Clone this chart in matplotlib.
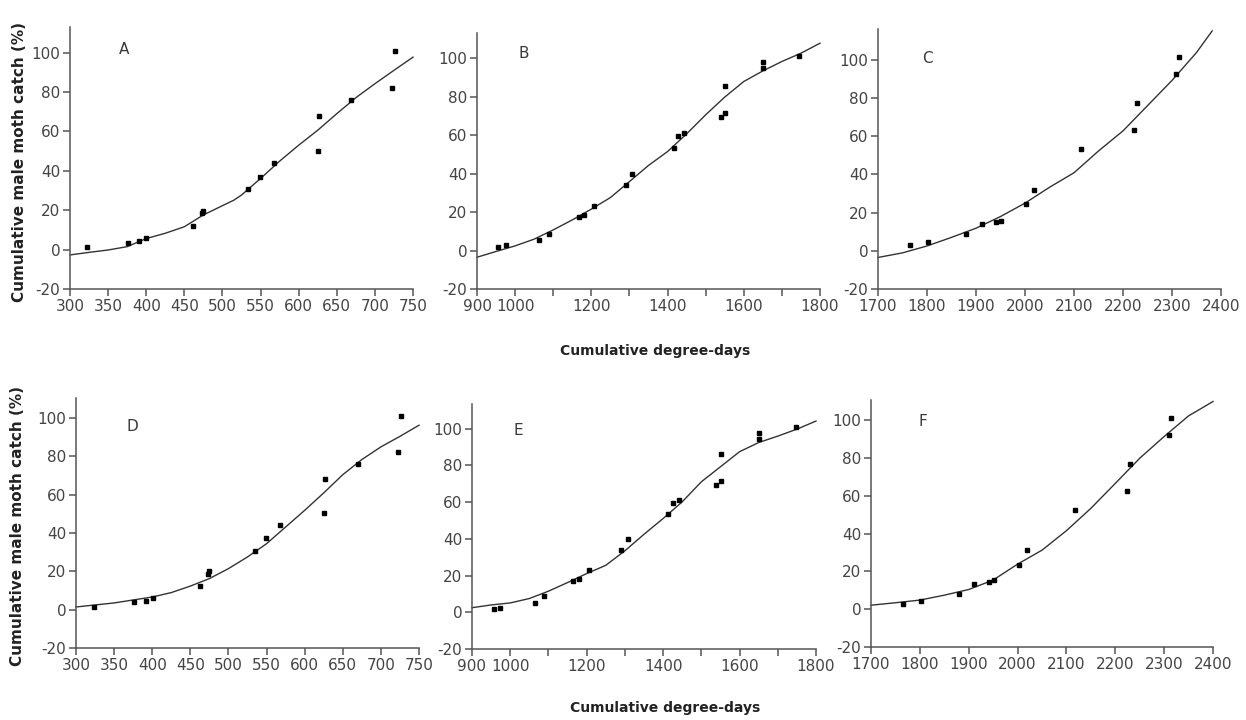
import matplotlib

matplotlib.use("Agg")
import matplotlib.pyplot as plt

plt.rcParams["axes.unicode_minus"] = False

# observed catches (degree-days, %)
A_X = [322.7, 375.6, 391, 399.7, 461.8, 472.7, 475, 534, 549.3, 567.6, 627, 626, 668.5, 722, 726]
A_Y = [1.4, 3.5, 4.2, 6.1, 12.2, 18.4, 19.7, 30.7, 37.1, 44, 67.8, 50.3, 76.1, 82, 100.6]
B_X = [954, 975, 1061.7, 1088, 1166.5, 1179.6, 1205.8, 1290.6, 1308, 1417.3, 1426.9, 1444.4,
       1541.4, 1552, 1551, 1649.8, 1649.8, 1745.9]
B_Y = [1.9, 2.8, 5.2, 8.7, 17.5, 18.2, 22.9, 33.9, 39.8, 53.5, 59.6, 61.3, 69.6, 71.3, 85.7,
       97.8, 94.7, 101]
C_X = [1764.8, 1802, 1878.6, 1911.3, 1939.9, 1950.8, 2001.3, 2019, 2114.5, 2222.8, 2229, 2307.4, 2314.2]
C_Y = [3, 4.6, 8.8, 14.1, 14.8, 15.8, 24.4, 32, 53, 63.1, 77.1, 92.6, 101.2]
D_X = [324, 376.6, 391.9, 400.6, 462.7, 474.9, 473.5, 535, 549.5, 567.7, 625.5, 626.8, 669.6, 722, 726]
D_Y = [1.4, 3.8, 4.5, 6.1, 12.5, 20, 18.8, 30.6, 37.2, 44.3, 50.6, 68.3, 76.2, 82.3, 101]
E_X = [956.8, 974.3, 1064.3, 1087.9, 1164.8, 1180.5, 1206.7, 1288.8, 1309, 1413.8, 1427, 1442.6,
       1538.8, 1551, 1551, 1649.7, 1649.7, 1747.6]
E_Y = [1.8, 2.5, 5.1, 8.9, 17.3, 18.2, 22.9, 33.8, 39.8, 53.5, 59.5, 61.1, 69.6, 71.3, 86.2,
       97.8, 94.7, 100.7]
F_X = [1765.5, 1803, 1879.4, 1910.8, 1940.8, 1952.4, 2003.6, 2019.3, 2116.9, 2224, 2230, 2309.3, 2314]
F_Y = [2.6, 4.4, 8.1, 13.2, 14.5, 15.2, 23.6, 31.2, 52.4, 62.6, 76.6, 92.3, 101]

# fitted model curves
A_FX = [300, 325, 350, 375, 400, 425, 450, 475, 500, 515, 525, 550, 575, 600, 625, 650, 675, 700, 725, 750]
A_FY = [-2.7, -1.4, -0.2, 1.5, 5.6, 8.3, 11.6, 17.6, 22.3, 25.1, 27.7, 36.1, 44.9, 53, 60.6, 69,
        77.1, 84.2, 91, 97.7]
B_FX = [900, 950, 1000, 1050, 1100, 1150, 1200, 1250, 1300, 1350, 1400, 1450, 1500, 1550, 1600,
        1650, 1700, 1750, 1800]
B_FY = [-3.5, -0.5, 2.4, 5.9, 10.7, 15.9, 21.5, 27.5, 35.8, 44.2, 51.4, 60.6, 70.5, 79.7, 87.8,
        93.3, 98.2, 102.5, 107.7]
C_FX = [1700, 1750, 1800, 1850, 1900, 1950, 2000, 2050, 2100, 2150, 2200, 2250, 2300, 2350, 2382]
C_FY = [-3.5, -1.1, 2.5, 7, 11.8, 17.9, 24.9, 33.2, 40.8, 52.2, 62.7, 75.9, 89.1, 103.7, 115]
D_FX = [300, 350, 400, 425, 450, 475, 500, 525, 550, 575, 600, 625, 650, 675, 700, 725, 750]
D_FY = [1.4, 3.5, 6.6, 8.9, 12.3, 16.2, 21.4, 27.5, 34.4, 43.1, 51.8, 60.9, 70.4, 78.3, 84.9,
        90.4, 96.2]
E_FX = [900, 950, 1000, 1050, 1100, 1150, 1200, 1250, 1300, 1350, 1400, 1450, 1500, 1550, 1600,
        1650, 1700, 1750, 1800]
E_FY = [2.5, 4, 5.1, 7.5, 11.5, 16.2, 21.1, 25.6, 33.5, 42.5, 51.1, 60.2, 71.1, 79.3, 87.5,
        92.5, 96, 99.8, 104.2]
F_FX = [1700, 1750, 1800, 1850, 1900, 1950, 2000, 2050, 2100, 2150, 2200, 2250, 2300, 2350, 2400]
F_FY = [2.1, 3.4, 4.8, 7.4, 10.4, 15.4, 23.8, 31.2, 41.5, 53.3, 66.5, 79.8, 91.3, 102.2, 109.8]

LETTERS = ["A", "B", "C", "D", "E", "F"]
Y_TICKS = [-20, 0, 20, 40, 60, 80, 100]
X_TICKS_300 = [300, 350, 400, 450, 500, 550, 600, 650, 700, 750]
X_TICKS_900 = [900, 1000, 1100, 1200, 1300, 1400, 1500, 1600, 1700, 1800]
X_LABELS_900 = ["900", "1000", "", "1200", "", "1400", "", "1600", "", "1800"]
X_TICKS_1700 = [1700, 1800, 1900, 2000, 2100, 2200, 2300, 2400]

W, H = 1246, 720
# pixel layout: left, right, y of -20, top of y-axis, y max
BOXES = [(70, 413, 289, 27, 113), (477, 820, 289, 33, 113), (878, 1221, 289, 29, 116),
         (76, 419, 648, 398, 110.4), (472, 816, 649, 404, 113.5), (871, 1213, 647, 400, 110.6)]
LETTER_POS = [(371, 101.4), (1022, 102.5), (1800, 100.8), (374, 95.7), (1022, 99.3), (1806, 99.2)]

panels = [(A_X, A_Y, A_FX, A_FY, X_TICKS_300, None),
          (B_X, B_Y, B_FX, B_FY, X_TICKS_900, X_LABELS_900),
          (C_X, C_Y, C_FX, C_FY, X_TICKS_1700, None),
          (D_X, D_Y, D_FX, D_FY, X_TICKS_300, None),
          (E_X, E_Y, E_FX, E_FY, X_TICKS_900, X_LABELS_900),
          (F_X, F_Y, F_FX, F_FY, X_TICKS_1700, None)]

fig = plt.figure(figsize=(W / 100, H / 100), dpi=100)
grey = "#555555"
for (xs, ys, fx, fy, xt, xl), (l, r, yb, yt, ymax), letter, (lx, ly) in zip(
        panels, BOXES, LETTERS, LETTER_POS):
    ax = fig.add_axes([l / W, 1 - yb / H, (r - l) / W, (yb - yt) / H])
    ax.plot(fx, fy, color="#333333", lw=1.0, clip_on=False)
    ax.plot(xs, ys, "s", color="black", ms=2.8, mec="black")
    ax.set_xlim(xt[0], xt[-1])
    ax.set_ylim(-20, ymax)
    ax.set_xticks(xt)
    if xl is not None:
        ax.set_xticklabels(xl)
    ax.set_yticks(Y_TICKS)
    for s in ("top", "right"):
        ax.spines[s].set_visible(False)
    for s in ("left", "bottom"):
        ax.spines[s].set_color(grey)
        ax.spines[s].set_linewidth(1.1)
    ax.tick_params(direction="out", length=5, width=1.1, color=grey, labelsize=11,
                   labelcolor="#444444", pad=2)
    ax.text(lx, ly, letter, fontsize=11, color="#3a3a3a", ha="center", va="center")

ylab = "Cumulative male moth catch (%)"
fig.text(20 / W, 1 - 162 / H, ylab, rotation=90, ha="center", va="center",
         fontsize=11, fontweight="bold", color="#222222")
fig.text(18 / W, 1 - 526 / H, ylab, rotation=90, ha="center", va="center",
         fontsize=11, fontweight="bold", color="#222222")
fig.text(655 / W, 1 - 351 / H, "Cumulative degree-days", ha="center", va="center",
         fontsize=10, fontweight="bold", color="#222222")
fig.text(665 / W, 1 - 708 / H, "Cumulative degree-days", ha="center", va="center",
         fontsize=10, fontweight="bold", color="#222222")

fig.savefig("out.png", dpi=100)
